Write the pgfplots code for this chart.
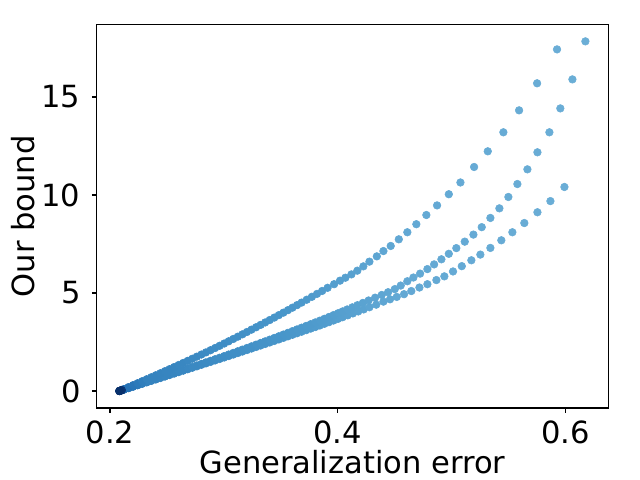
\documentclass[border=0pt]{standalone}
\usepackage{fontspec}
\setmainfont{DejaVu Sans}
\usepackage{pgfplots}
\pgfplotsset{compat=1.18}
\usepackage{pgfplotstable}
\pgfplotstableread{
x y
0.2082 0
0.2122 0.098
0.2162 0.197
0.2202 0.297
0.2242 0.397
0.2282 0.498
0.2322 0.599
0.2362 0.701
0.2402 0.803
0.2442 0.906
0.2482 1.010
0.2522 1.114
0.2562 1.219
0.2602 1.325
0.2642 1.431
0.2682 1.538
0.2722 1.645
0.2762 1.753
0.2802 1.861
0.2842 1.970
0.2882 2.080
0.2922 2.193
0.2962 2.307
0.3002 2.422
0.3042 2.538
0.3082 2.655
0.3122 2.773
0.3162 2.891
0.3202 3.011
0.3242 3.131
0.3282 3.252
0.3322 3.374
0.3362 3.497
0.3402 3.621
0.3442 3.745
0.3482 3.871
0.3522 3.997
0.3562 4.125
0.3602 4.253
0.3642 4.382
0.3682 4.512
0.3727 4.659
0.3772 4.806
0.3817 4.955
0.3862 5.105
0.3910 5.266
0.3967 5.45
0.4019 5.63
0.4066 5.78
0.4119 5.95
0.4171 6.14
0.4224 6.36
0.4277 6.60
0.4342 6.87
0.4400 7.14
0.4464 7.40
0.4535 7.74
0.4610 8.10
0.4689 8.51
0.4777 8.98
0.4871 9.47
0.4974 10.04
0.5076 10.64
0.5196 11.43
0.5316 12.23
0.5453 13.20
0.5591 14.32
0.5749 15.70
0.5924 17.43
}\curveA
\pgfplotstableread{
x y
0.2082 0
0.2122 0.075
0.2162 0.151
0.2202 0.226
0.2242 0.302
0.2282 0.378
0.2322 0.455
0.2362 0.531
0.2402 0.607
0.2442 0.684
0.2482 0.761
0.2522 0.838
0.2562 0.916
0.2602 0.993
0.2642 1.071
0.2682 1.149
0.2722 1.227
0.2762 1.305
0.2802 1.383
0.2842 1.462
0.2882 1.540
0.2922 1.619
0.2962 1.698
0.3002 1.780
0.3042 1.862
0.3082 1.945
0.3122 2.028
0.3162 2.111
0.3202 2.195
0.3242 2.279
0.3282 2.364
0.3322 2.449
0.3362 2.534
0.3402 2.620
0.3442 2.706
0.3482 2.793
0.3522 2.880
0.3562 2.967
0.3602 3.055
0.3642 3.143
0.3682 3.232
0.3722 3.321
0.3762 3.410
0.3802 3.500
0.3842 3.590
0.3882 3.684
0.3922 3.778
0.3962 3.873
0.4002 3.968
0.4042 4.064
0.4082 4.160
0.4127 4.269
0.4172 4.378
0.4220 4.496
0.4270 4.619
0.4327 4.761
0.4385 4.90
0.4441 5.04
0.4500 5.20
0.4552 5.38
0.4610 5.60
0.4663 5.79
0.4722 5.99
0.4786 6.22
0.4845 6.46
0.4909 6.72
0.4974 7.00
0.5040 7.29
0.5114 7.62
0.5190 7.98
0.5263 8.36
0.5339 8.83
0.5418 9.32
0.5497 9.90
0.5576 10.56
0.5664 11.31
0.5752 12.18
0.5857 13.20
0.5953 14.42
0.6059 15.90
0.6173 17.84
}\curveB
\pgfplotstableread{
x y
0.2082 0
0.2122 0.074
0.2162 0.147
0.2202 0.221
0.2242 0.295
0.2282 0.369
0.2322 0.443
0.2362 0.517
0.2402 0.591
0.2442 0.665
0.2482 0.739
0.2522 0.814
0.2562 0.888
0.2602 0.962
0.2642 1.037
0.2682 1.111
0.2722 1.186
0.2762 1.260
0.2802 1.335
0.2842 1.410
0.2882 1.485
0.2922 1.560
0.2962 1.635
0.3002 1.710
0.3042 1.785
0.3082 1.860
0.3122 1.937
0.3162 2.013
0.3202 2.090
0.3242 2.167
0.3282 2.245
0.3322 2.322
0.3362 2.400
0.3402 2.477
0.3442 2.555
0.3482 2.633
0.3522 2.712
0.3562 2.790
0.3602 2.869
0.3642 2.948
0.3682 3.026
0.3722 3.106
0.3762 3.185
0.3802 3.264
0.3842 3.344
0.3882 3.428
0.3922 3.512
0.3962 3.596
0.4002 3.681
0.4042 3.766
0.4087 3.862
0.4132 3.959
0.4179 4.060
0.4227 4.164
0.4277 4.273
0.4337 4.405
0.4400 4.56
0.4458 4.68
0.4517 4.80
0.4581 4.94
0.4645 5.10
0.4716 5.28
0.4786 5.45
0.4865 5.66
0.4935 5.85
0.5011 6.10
0.5088 6.37
0.5172 6.67
0.5251 6.96
0.5339 7.30
0.5435 7.69
0.5532 8.10
0.5637 8.57
0.5752 9.12
0.5866 9.69
0.5989 10.41
}\curveC
\pgfplotstableread{
x y
0.2102 0.049
0.2102 0.0376
0.2102 0.0368
0.2092 0.0245
0.2092 0.0188
0.2092 0.0184
0.2082 0
}\origin
\begin{document}
\begin{tikzpicture}
\begin{axis}[
  width=368.35pt, height=275.98pt, scale only axis,
  xmin=0.1883, xmax=0.6374, ymin=-0.867, ymax=18.69,
  xtick={0.2,0.4,0.6}, ytick={0,5,10,15},
  xticklabels={0.2,0.4,0.6},
  tick pos=left, tick align=outside, major tick length=3.5pt,
  every tick/.style={black, line width=0.8pt},
  axis line style={black, line width=0.8pt},
  /pgf/number format/assume math mode=true,
  every tick label/.append style={font=\fontsize{22}{26}\selectfont},
  xticklabel style={anchor=north, inner sep=0pt, yshift=-5.6pt},
  yticklabel style={anchor=east, inner sep=0pt, xshift=-8pt},
  xlabel={Generalization error}, ylabel={Our bound},
  label style={font=\fontsize{22}{26}\selectfont},
  xlabel style={at={(axis description cs:0.5,-0.170)}, anchor=base, inner sep=0pt},
  ylabel style={at={(axis description cs:-0.1205,0.5)}, anchor=south, inner sep=0pt},
  colormap={bl}{rgb255(0pt)=(8,48,107); rgb255(2pt)=(10,55,120); rgb255(4pt)=(33,110,180); rgb255(24pt)=(52,130,190); rgb255(144pt)=(72,150,202); rgb255(244pt)=(98,168,212); rgb255(408pt)=(107,174,214)},
  point meta min=0.2082, point meta max=0.6162,
]
\addplot[scatter, only marks, mark=*, mark size=2.75pt, point meta=x,
  scatter/use mapped color={draw=mapped color, fill=mapped color}] table {\curveC};
\addplot[scatter, only marks, mark=*, mark size=2.75pt, point meta=x,
  scatter/use mapped color={draw=mapped color, fill=mapped color}] table {\curveB};
\addplot[scatter, only marks, mark=*, mark size=2.75pt, point meta=x,
  scatter/use mapped color={draw=mapped color, fill=mapped color}] table {\curveA};
\addplot[scatter, only marks, mark=*, mark size=2.75pt, point meta=x,
  scatter/use mapped color={draw=mapped color, fill=mapped color}] table {\origin};
\end{axis}
\pgfresetboundingbox
\useasboundingbox (-69.62pt,-51.84pt) rectangle (391.18pt,293.76pt);
\end{tikzpicture}
\end{document}
